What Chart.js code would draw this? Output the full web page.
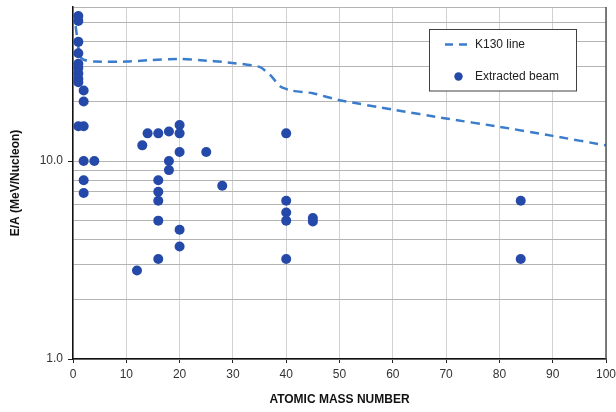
<!DOCTYPE html>
<html>
<head>
<meta charset="utf-8">
<script src="https://cdn.jsdelivr.net/npm/chart.js@4"></script>
<style>
html,body{margin:0;padding:0;background:#fff;}
#wrap{width:616px;height:412px;position:relative;}
</style>
</head>
<body>
<div id="wrap"><canvas id="c" width="616" height="412"></canvas></div>
<script>
// K130 line (atomic mass number, E/A in MeV/nucleon)
const lineMass = [0.5, 1.3, 2, 4, 10, 14, 20, 24, 29, 35, 37, 39, 41, 45, 50, 60, 70, 80, 90, 100];
const lineEA   = [48, 33.8, 32.5, 31.8, 31.8, 32.3, 32.8, 32.3, 31.5, 29.9, 27.2, 23.7, 22.7, 22.0, 20.3, 18.2, 16.4, 14.9, 13.4, 12.0];

// Extracted beams
const beamMass = [1, 1, 1, 1, 1, 1, 1, 1, 1, 1,
                  2, 2, 2, 2, 2, 2,
                  4, 12, 13, 14,
                  16, 16, 16, 16, 16, 16,
                  18, 18, 18,
                  20, 20, 20, 20, 20,
                  25, 28,
                  40, 40, 40, 40, 40,
                  45, 45,
                  84, 84];
const beamEA   = [54, 51, 40, 35, 31, 29.5, 27.7, 26, 25, 15,
                  22.7, 20, 15, 10, 8, 6.9,
                  10, 2.8, 12, 13.8,
                  13.8, 8, 7, 6.3, 5, 3.2,
                  14.1, 10, 9,
                  15.2, 13.8, 11.1, 4.5, 3.7,
                  11.1, 7.5,
                  13.8, 6.3, 5.5, 5.0, 3.2,
                  5.15, 4.95,
                  6.3, 3.2];

const yTicks = [1, 2, 3, 4, 5, 6, 7, 8, 9, 10, 20, 30, 40, 50, 60];
const yLabels = {1: '1.0', 10: '10.0'};
const xTicks = [0, 10, 20, 30, 40, 50, 60, 70, 80, 90, 100];

const seriesNames = ['K130 line', 'Extracted beam'];
const lineColor = '#3b7dcc';
const dotColor = '#2549a8';

const FONT = "'Liberation Sans', Arial, sans-serif";

const legendPlugin = {
  id: 'customLegend',
  afterDraw(chart) {
    const ctx = chart.ctx;
    const a = chart.chartArea;
    ctx.save();
    // right border of plot
    ctx.strokeStyle = '#555';
    ctx.lineWidth = 1.5;
    ctx.beginPath();
    ctx.moveTo(a.right, a.top);
    ctx.lineTo(a.right, a.bottom);
    ctx.stroke();
    // legend box
    const bx = 429.5, by = 29.5, bw = 147, bh = 61.5;
    ctx.fillStyle = '#fff';
    ctx.fillRect(bx, by, bw, bh);
    ctx.strokeStyle = '#404040';
    ctx.lineWidth = 1;
    ctx.strokeRect(bx, by, bw, bh);
    // line sample
    ctx.strokeStyle = lineColor;
    ctx.lineWidth = 2.5;
    ctx.setLineDash([8, 6]);
    ctx.beginPath();
    ctx.moveTo(445, 44.5);
    ctx.lineTo(470, 44.5);
    ctx.stroke();
    ctx.setLineDash([]);
    // dot sample
    ctx.fillStyle = dotColor;
    ctx.beginPath();
    ctx.arc(458.5, 76.5, 4.2, 0, Math.PI * 2);
    ctx.fill();
    // texts
    ctx.fillStyle = '#222';
    ctx.font = '12px ' + FONT;
    ctx.textBaseline = 'middle';
    ctx.textAlign = 'left';
    ctx.fillText(seriesNames[0], 475, 44.5);
    ctx.fillText(seriesNames[1], 475, 76.5);
    ctx.restore();
  }
};

new Chart(document.getElementById('c'), {
  type: 'scatter',
  data: {
    datasets: [
      {
        label: seriesNames[1],
        data: beamMass.map((m, i) => ({x: m, y: beamEA[i]})),
        backgroundColor: dotColor,
        borderColor: dotColor,
        pointRadius: 5,
        pointHoverRadius: 5,
        borderWidth: 0,
        showLine: false,
        order: 0
      },
      {
        label: seriesNames[0],
        data: lineMass.map((m, i) => ({x: m, y: lineEA[i]})),
        borderColor: lineColor,
        backgroundColor: lineColor,
        borderWidth: 2.5,
        borderDash: [9, 6],
        pointRadius: 0,
        showLine: true,
        tension: 0.2,
        order: 1
      }
    ]
  },
  options: {
    responsive: false,
    animation: false,
    layout: {padding: {left: 0, right: 0, top: 7, bottom: 0}},
    plugins: {
      legend: {display: false},
      tooltip: {enabled: false}
    },
    scales: {
      x: {
        type: 'linear',
        min: 0,
        max: 100,
        afterBuildTicks(scale) { scale.ticks = xTicks.map(v => ({value: v})); },
        afterFit(scale) { scale.height = 53; scale.paddingRight = 10; scale.paddingLeft = 0; },
        ticks: {
          autoSkip: false,
          maxRotation: 0,
          padding: 4,
          color: '#333',
          font: {family: FONT, size: 12}
        },
        grid: {
          color: '#d2d2d2',
          lineWidth: 1,
          tickLength: 4,
          tickColor: '#222'
        },
        border: {color: '#111', width: 1.5},
        title: {
          display: true,
          text: 'ATOMIC MASS NUMBER',
          color: '#111',
          font: {family: FONT, size: 12, weight: 'bold'},
          padding: {top: 0, bottom: 5}
        }
      },
      y: {
        type: 'logarithmic',
        min: 1,
        max: 60,
        afterBuildTicks(scale) { scale.ticks = yTicks.map(v => ({value: v})); },
        afterFit(scale) { scale.width = 73; scale.paddingTop = 0; scale.paddingBottom = 0; },
        ticks: {
          autoSkip: false,
          padding: 5,
          color: '#333',
          font: {family: FONT, size: 12},
          callback: (v) => yLabels[v] || ''
        },
        grid: {
          color: '#b4b4b4',
          lineWidth: 1,
          tickLength: 5,
          tickColor: (c) => (c.tick && yLabels[c.tick.value]) ? '#222' : 'rgba(0,0,0,0)'
        },
        border: {color: '#111', width: 1.5},
        title: {
          display: true,
          text: 'E/A (MeV/Nucleon)',
          color: '#111',
          font: {family: FONT, size: 12, weight: 'bold'},
          padding: {top: 8, bottom: 0}
        }
      }
    }
  },
  plugins: [legendPlugin]
});
</script>
</body>
</html>
